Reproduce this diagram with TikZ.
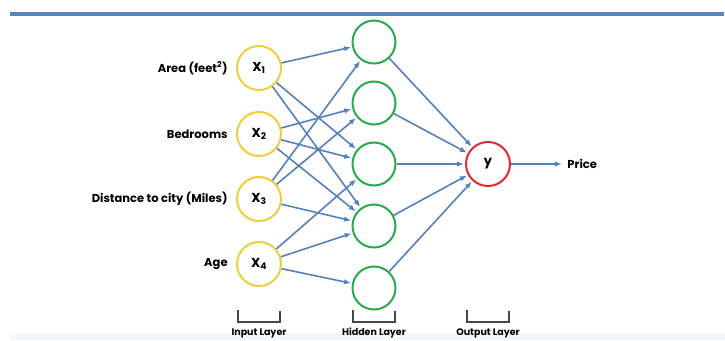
\documentclass[tikz,border=0pt]{standalone}
\usepackage{fontspec}
\setmainfont{Poppins}
\usepackage{xcolor}
\usetikzlibrary{positioning,arrows.meta}

\definecolor{edgeblue}{RGB}{84,128,188}
\definecolor{ruleblue}{RGB}{86,132,192}
\definecolor{inyellow}{RGB}{240,205,60}
\definecolor{hidgreen}{RGB}{40,170,80}
\definecolor{outred}{RGB}{225,40,45}
\definecolor{bracketgray}{RGB}{70,70,70}
\definecolor{bandblue}{RGB}{242,247,252}

\begin{document}
\begin{tikzpicture}[x=1pt,y=-1pt,->,>={Latex[length=7pt,width=5.5pt]},shorten >=1pt,thick,
  in node/.style={circle,draw=inyellow,line width=2pt,minimum size=44pt,inner sep=0pt,font=\bfseries\fontsize{13}{15}\selectfont},
  hid node/.style={circle,draw=hidgreen,line width=2pt,minimum size=43pt,inner sep=0pt},
  out node/.style={circle,draw=outred,line width=2pt,minimum size=44pt,inner sep=0pt,font=\bfseries\fontsize{13}{15}\selectfont},
  name text/.style={font=\bfseries\fontsize{11.5}{13}\selectfont,inner sep=0pt},
  layer text/.style={font=\bfseries\fontsize{9.5}{11}\selectfont,inner sep=0pt}]
            \useasboundingbox (0,0) rectangle (725,340);
            % frame
            \fill[bandblue] (10,333) rectangle (725,340);
            \draw[-,ruleblue,line width=4.5pt] (10,14) -- (725,14);

            % input layer
            \node[in node] (1) at (259,68) {X\textsubscript{1}};
            \node[in node] (2) at (259,134) {X\textsubscript{2}};
            \node[in node] (3) at (259,199) {X\textsubscript{3}};
            \node[in node] (4) at (259,264) {X\textsubscript{4}};

            \node[name text] (a) [left = 8pt of 1] {Area (feet\textsuperscript{2})};
            \node[name text] (b) [left = 8pt of 2] {Bedrooms};
            \node[name text] (c) [left = 8pt of 3] {Distance to city (Miles)};
            \node[name text] (d) [left = 8pt of 4] {Age};

            % hidden layer
            \node[hid node] (5) at (374,42) {};
            \node[hid node] (6) at (374,103) {};
            \node[hid node] (7) at (374,164) {};
            \node[hid node] (8) at (374,226) {};
            \node[hid node] (9) at (374,288) {};

            % output layer
            \node[out node] (10) at (488,164) {y};
            \node[name text] (11) [right = 56pt of 10] {Price};

            \path[every edge/.style={draw=edgeblue,line width=1.6pt}]
                (1) edge (5)
                (1) edge (7)
                (1) edge (8)
                (2) edge (6)
                (2) edge (7)
                (2) edge (8)
                (3) edge (5)
                (3) edge (6)
                (3) edge (8)
                (4) edge (7)
                (4) edge (8)
                (4) edge (9)
                (5) edge (10)
                (6) edge (10)
                (7) edge (10)
                (8) edge (10)
                (9) edge (10)
                (10) edge[shorten >=5pt] (11)
                ;

            % layer brackets
            \foreach \x/\t in {259/Input Layer,374/Hidden Layer,488/Output Layer}{
                \draw[-,bracketgray,line width=1.8pt] (\x-21,310) -- (\x-21,322) -- (\x+21,322) -- (\x+21,310);
                \node[layer text] at (\x,333) {\t};
            }
        \end{tikzpicture}
\end{document}
